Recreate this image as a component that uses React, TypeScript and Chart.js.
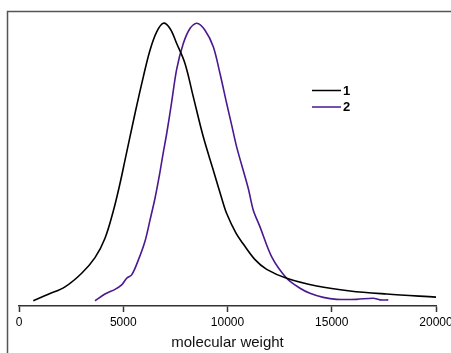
import React, { useEffect, useRef } from "react";
import { Chart, registerables } from "chart.js";

Chart.register(...registerables);

// Series 1 (black)
const mw1 = [686, 1405, 2206, 3007, 3645, 4125, 4523, 4844, 5084, 5563, 5962, 6283, 6604, 6921, 7242, 7563, 7961, 8360, 8839, 9319, 9722, 9961, 10407, 10758, 11319, 11880, 12839, 14278, 15875, 17635, 20000];
const val1 = [0.1, 2.4, 5.1, 10.0, 15.6, 22.6, 32.4, 42.3, 50.7, 67.5, 80.7, 90.3, 96.9, 100, 98.1, 92.7, 85.5, 73.5, 59.1, 47.1, 37.0, 31.5, 24.4, 20.5, 14.9, 11.4, 8.2, 5.4, 3.6, 2.5, 1.4];

// Series 2 (purple)
const mw2 = [3645, 4125, 4604, 4925, 5165, 5405, 5722, 6043, 6283, 6523, 6763, 6921, 7084, 7300, 7563, 7880, 8201, 8523, 8921, 9319, 9640, 9961, 10201, 10441, 10997, 11237, 11559, 12120, 12839, 13477, 13956, 14594, 15237, 16196, 16992, 17314, 17711];
const val2 = [0.1, 2.5, 4.2, 5.8, 8.2, 9.4, 14.7, 21.5, 29.1, 37.0, 46.5, 53.5, 60.3, 70.5, 83.5, 92.7, 98.1, 100, 97.5, 91.5, 81.9, 71.1, 63.3, 55.4, 40.5, 32.7, 26.7, 15.9, 8.2, 4.6, 2.8, 1.3, 0.6, 0.6, 1.0, 0.4, 0.4];

const seriesLabels = ["1", "2"];
const seriesColors = ["#000000", "#4a1890"];
const xTicks = [0, 5000, 10000, 15000, 20000];
const xTitle = "molecular weight";

const FONT = "'Liberation Sans', Arial, sans-serif";

const framePlugin = {
  id: "frame",
  beforeDraw(chart: any) {
    const { ctx, width, height } = chart;
    ctx.save();
    ctx.strokeStyle = "#555555";
    ctx.lineWidth = 1.5;
    ctx.beginPath();
    ctx.moveTo(7.5, height);
    ctx.lineTo(7.5, 11.5);
    ctx.lineTo(width, 11.5);
    ctx.stroke();
    ctx.restore();
  },
};

const legendPlugin = {
  id: "insideLegend",
  afterDraw(chart: any) {
    const { ctx } = chart;
    ctx.save();
    chart.data.datasets.forEach((ds: any, i: number) => {
      const y = 90.5 + i * 16.5;
      ctx.strokeStyle = ds.borderColor;
      ctx.lineWidth = 1.5;
      ctx.beginPath();
      ctx.moveTo(312, y);
      ctx.lineTo(341, y);
      ctx.stroke();
      ctx.fillStyle = "#000";
      ctx.font = `bold 13px ${FONT}`;
      ctx.textBaseline = "middle";
      ctx.textAlign = "left";
      ctx.fillText(ds.label, 343, y + 0.5);
    });
    ctx.restore();
  },
};

export default function App() {
  const ref = useRef<HTMLCanvasElement | null>(null);

  useEffect(() => {
    if (!ref.current) return;
    const chart = new Chart(ref.current, {
      type: "line",
      data: {
        datasets: [
          {
            label: seriesLabels[0],
            data: mw1.map((x, i) => ({ x, y: val1[i] })),
            borderColor: seriesColors[0],
            borderWidth: 1.6,
            pointRadius: 0,
            tension: 0.35,
            fill: false,
          },
          {
            label: seriesLabels[1],
            data: mw2.map((x, i) => ({ x, y: val2[i] })),
            borderColor: seriesColors[1],
            borderWidth: 1.6,
            pointRadius: 0,
            tension: 0.3,
            fill: false,
          },
        ],
      },
      options: {
        animation: false,
        responsive: false,
        devicePixelRatio: 1,
        layout: { padding: { left: 19, right: 34, top: 11, bottom: 0 } },
        plugins: { legend: { display: false }, tooltip: { enabled: false } },
        scales: {
          x: {
            type: "linear",
            min: 0,
            max: 20000,
            afterBuildTicks: (scale: any) => {
              scale.ticks = xTicks.map((v) => ({ value: v }));
            },
            afterFit: (scale: any) => {
              scale.height = 47;
            },
            ticks: {
              autoSkip: false,
              maxRotation: 0,
              padding: 3,
              color: "#000",
              font: { family: FONT, size: 12 },
              callback: (v: any) => String(v),
            },
            grid: {
              display: true,
              drawOnChartArea: false,
              drawTicks: true,
              tickLength: 6,
              tickColor: "#333",
              tickWidth: 1.5,
            },
            border: { display: true, color: "#333", width: 1.5 },
            title: {
              display: true,
              text: xTitle,
              color: "#111",
              font: { family: FONT, size: 15 },
              padding: { top: 0, bottom: 1 },
            },
          },
          y: {
            display: false,
            min: -1.8,
            max: 104.4,
          },
        },
      },
      plugins: [framePlugin, legendPlugin],
    });
    return () => chart.destroy();
  }, []);

  return (
    <div style={{ position: "fixed", left: 0, top: 0, width: 451, height: 353, overflow: "hidden", background: "#fff" }}>
      <canvas ref={ref} width={470} height={353} style={{ width: 470, height: 353, display: "block" }} />
    </div>
  );
}
